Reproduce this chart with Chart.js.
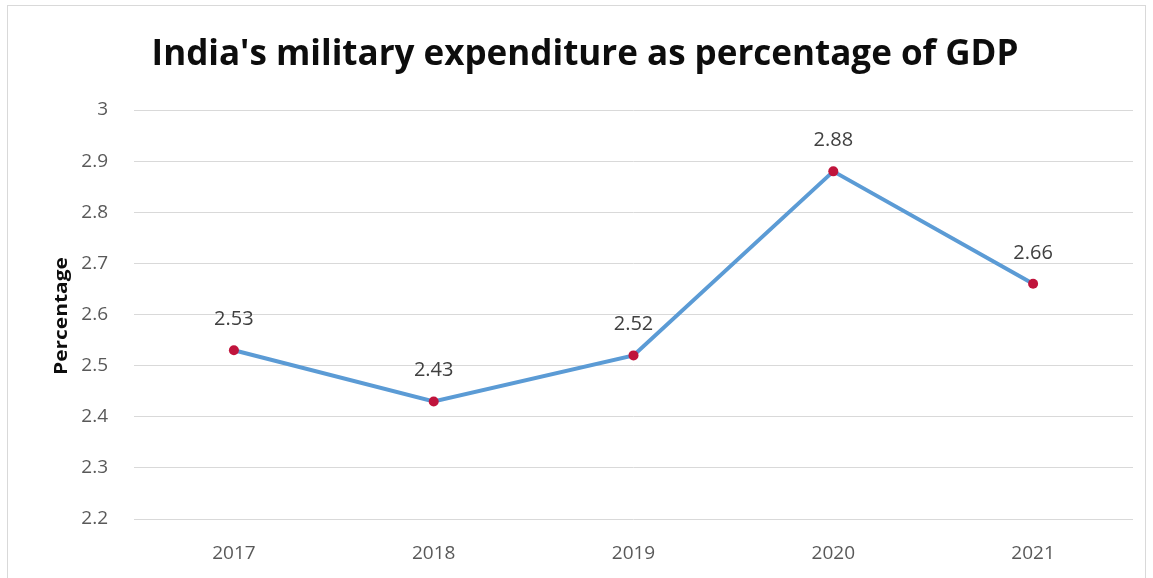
<!DOCTYPE html>
<html>
<head>
<meta charset="utf-8">
<script src="https://cdn.jsdelivr.net/npm/chart.js@4"></script>
<style>
  html, body { margin: 0; padding: 0; background: #fff; }
  #wrap { width: 1153px; height: 578px; }
</style>
</head>
<body>
<div id="wrap"><canvas id="milexChart" width="1153" height="578"></canvas></div>
<script>
// Military spending of India, share of GDP (%)
const years = ['2017', '2018', '2019', '2020', '2021'];
const gdpShare = [2.53, 2.43, 2.52, 2.88, 2.66];
const yTicks = [2.2, 2.3, 2.4, 2.5, 2.6, 2.7, 2.8, 2.9, 3];
const chartTitle = "India's military expenditure as percentage of GDP";
const yAxisTitle = 'Percentage';

const FONT = '"Open Sans", "DejaVu Sans", sans-serif';

// frame, heading and the rotated axis caption
const decorations = {
    id: 'decorations',
    beforeDraw(chart) {
        const ctx = chart.ctx;
        ctx.save();
        ctx.strokeStyle = '#d9d9d9';
        ctx.lineWidth = 1;
        ctx.strokeRect(7.5, 5.5, 1138, 600);

        ctx.fillStyle = '#0d0d0d';
        ctx.font = 'bold 35px ' + FONT;
        ctx.textAlign = 'center';
        ctx.textBaseline = 'alphabetic';
        ctx.fillText(chartTitle, 585, 65);

        // vertical caption, stretched a little along its length
        ctx.font = 'bold 18px ' + FONT;
        ctx.textBaseline = 'middle';
        const w = ctx.measureText(yAxisTitle).width;
        ctx.translate(62, 316);
        ctx.rotate(-Math.PI / 2);
        ctx.scale(118 / w, 1);
        ctx.fillText(yAxisTitle, 0, 0);
        ctx.restore();
    }
};

// value labels above each point
const valueLabels = {
    id: 'valueLabels',
    afterDatasetsDraw(chart) {
        const ctx = chart.ctx;
        const meta = chart.getDatasetMeta(0);
        ctx.save();
        ctx.font = '20px ' + FONT;
        ctx.fillStyle = '#404040';
        ctx.textAlign = 'center';
        ctx.textBaseline = 'middle';
        meta.data.forEach((pt, i) => {
            ctx.fillText(gdpShare[i].toFixed(2), pt.x, pt.y - 31);
        });
        ctx.restore();
    }
};

new Chart(document.getElementById('milexChart'), {
    type: 'line',
    data: {
        labels: years,
        datasets: [{
            data: gdpShare,
            borderColor: '#5b9bd5',
            borderWidth: 4,
            tension: 0,
            pointRadius: 5,
            pointBackgroundColor: '#c0143c',
            pointBorderColor: '#c0143c',
            pointBorderWidth: 0
        }]
    },
    options: {
        responsive: false,
        animation: false,
        layout: { padding: { left: 0, right: 20, top: 110, bottom: 0 } },
        plugins: {
            legend: { display: false },
            tooltip: { enabled: false },
            title: { display: false }
        },
        scales: {
            x: {
                offset: true,
                grid: { display: false },
                border: { display: false },
                ticks: { color: '#595959', font: { family: FONT, size: 19 }, padding: 15 },
                afterFit(scale) { scale.height = 59; }
            },
            y: {
                min: 2.2,
                max: 3,
                afterBuildTicks(scale) {
                    scale.ticks = yTicks.map(v => ({ value: v }));
                },
                grid: { color: '#d9d9d9', lineWidth: 1, drawTicks: false },
                border: { display: false },
                ticks: {
                    color: '#595959',
                    font: { family: FONT, size: 19 },
                    padding: 26,
                    callback: v => String(v)
                },
                afterFit(scale) { scale.width = 134; }
            }
        }
    },
    plugins: [decorations, valueLabels]
});
</script>
</body>
</html>
